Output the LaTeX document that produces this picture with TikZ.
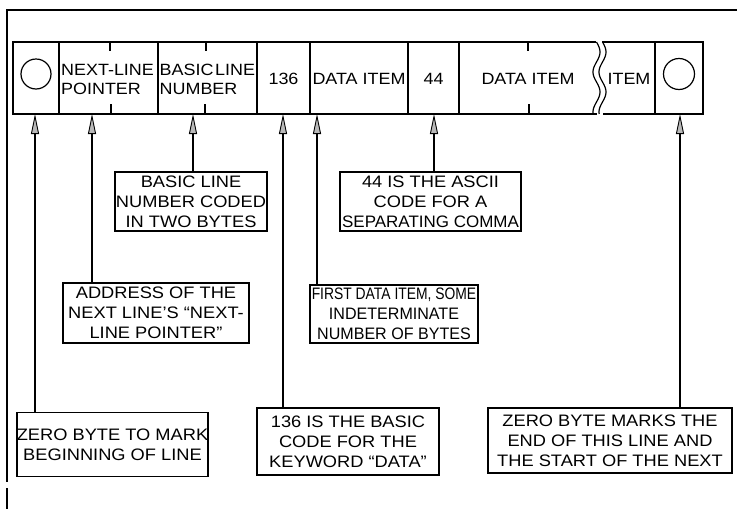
\documentclass[tikz,border=0pt]{standalone}
\usepackage{fontspec}
\setmainfont{Liberation Sans}[FakeStretch=1.1]
\usetikzlibrary{arrows.meta}
\begin{document}
\begin{tikzpicture}[x=1pt,y=-1pt,
  frameline/.style={line width=2.2pt},
  cellline/.style={line width=1.2pt},
  celltext/.style={font=\fontsize{16.3}{19}\selectfont, inner sep=0pt},
  callout/.style={draw, line width=1.5pt, align=center, inner sep=0pt,
    font=\fontsize{16.6}{20}\selectfont},
  conn/.style={line width=1.3pt,
    -{Triangle[length=20pt,width=8pt,fill=gray!55,line width=0.9pt]}},
]
\useasboundingbox (0,0) rectangle (737,509);
% frame
\draw[frameline] (737,10) -- (7,10) -- (7,482);
\draw[frameline] (7,488) -- (7,509);
% byte row outline
\draw[cellline] (596,42) -- (13,42) -- (13,114) -- (597,114);
\draw[cellline] (602,42) -- (703,42) -- (703,114) -- (603,114);
\draw[cellline] plot[domain=0:72, samples=49, smooth] ({596.5+3.5*sin(\x*9)}, {42+\x});
\draw[cellline] plot[domain=0:72, samples=49, smooth] ({602.5+3.5*sin(\x*9)}, {42+\x});
% cell dividers
\foreach \xx in {59,158,257,310,408,459,655}
  \draw[cellline] (\xx,42) -- (\xx,114);
% byte ticks
\foreach \xx in {110,206,528}
  \draw[cellline] (\xx,42) -- (\xx,51);
\foreach \xx in {111,205,529}
  \draw[cellline] (\xx,104) -- (\xx,114);
% circles
\draw[cellline] (36,74) circle (15);
\draw[cellline] (679,74) circle (15.5);
% cell texts
\node[celltext, anchor=west, align=left] (nlp) at (61,79) {NEXT-LINE\\POINTER};
\node[celltext, anchor=west, align=left] (bln) at (159.5,79) {BASIC\hspace{0.1em}LINE\\NUMBER};
\node[celltext] (c136) at (283.5,79) {136};
\node[celltext] (di1) at (359,79) {DATA ITEM};
\node[celltext] (c44) at (433.5,79) {44};
\node[celltext] (di2) at (528,79) {DATA ITEM};
\node[celltext] (itm) at (629,79) {ITEM};
% arrow targets on the row bottom
\coordinate (a1) at (35,114);
\coordinate (a2) at (92,114);
\coordinate (a3) at (193,114);
\coordinate (a4) at (283,114);
\coordinate (a5) at (317,114);
\coordinate (a6) at (434,114);
\coordinate (a7) at (680,114);
% callouts
\node[callout, minimum width=152pt, minimum height=59pt] (bl) at (191,201.5)
  {BASIC LINE\\NUMBER CODED\\IN TWO BYTES};
\node[callout, minimum width=181pt, minimum height=59pt] (asc) at (430.5,201.5)
  {44 IS THE ASCII\\CODE FOR A\\\scalebox{0.93}[1]{SEPARATING COMMA}};
\node[callout, minimum width=186pt, minimum height=60pt] (adr) at (156,313)
  {ADDRESS OF THE\\NEXT LINE'S ``NEXT-\\LINE POINTER''};
\node[callout, minimum width=168pt, minimum height=58pt] (fdi) at (394,314)
  {\scalebox{0.76}[1]{FIRST DATA ITEM, SOME}\\\scalebox{0.88}[1]{INDETERMINATE}\\\scalebox{0.88}[1]{NUMBER OF BYTES}};
\node[callout, minimum width=191pt, minimum height=64pt] (zb) at (112.5,444.5)
  {ZERO BYTE TO MARK\\BEGINNING OF LINE};
\node[callout, minimum width=182pt, minimum height=67pt] (kw) at (348,441.5)
  {136 IS THE BASIC\\CODE FOR THE\\KEYWORD ``DATA''};
\node[callout, minimum width=244pt, minimum height=65pt] (ze) at (610,440.5)
  {ZERO BYTE MARKS THE\\END OF THIS LINE AND\\THE START OF THE NEXT};
% connectors
\draw[conn] (zb.north -| a1) -- (a1);
\draw[conn] (adr.north -| a2) -- (a2);
\draw[conn] (bl.north -| a3) -- (a3);
\draw[conn] (kw.north -| a4) -- (a4);
\draw[conn] (fdi.north -| a5) -- (a5);
\draw[conn] (asc.north -| a6) -- (a6);
\draw[conn] (ze.north -| a7) -- (a7);
\end{tikzpicture}
\end{document}
